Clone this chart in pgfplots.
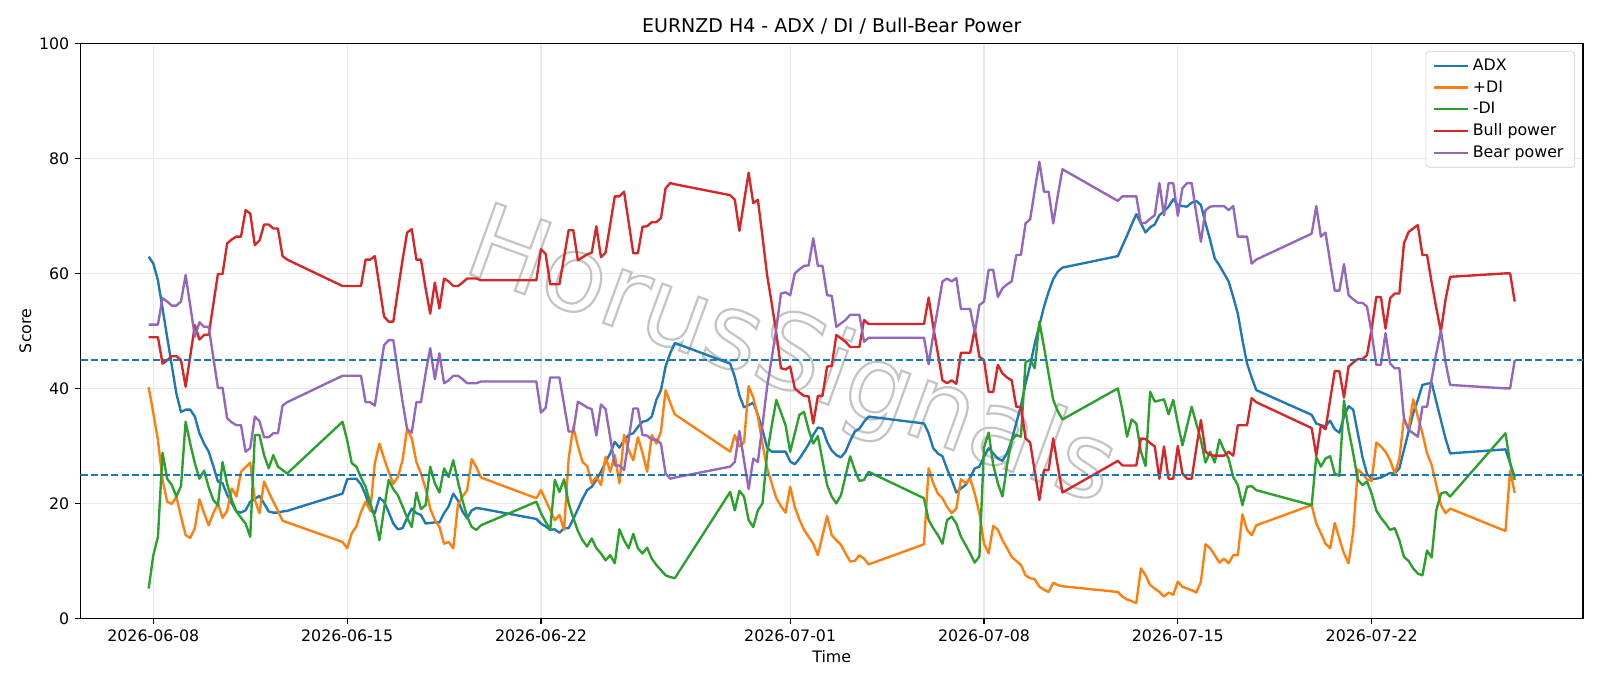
\documentclass[border=0pt]{standalone}
\usepackage{fontspec}
\setmainfont{DejaVu Sans}
\usepackage{pgfplots}
\pgfplotsset{compat=1.18}
\definecolor{cA}{HTML}{1F77B4}
\definecolor{cB}{HTML}{FF7F0E}
\definecolor{cC}{HTML}{2CA02C}
\definecolor{cD}{HTML}{D62728}
\definecolor{cE}{HTML}{9467BD}
\definecolor{gridc}{HTML}{E8E8E8}
\definecolor{legc}{HTML}{CCCCCC}
\definecolor{wmc}{HTML}{C4C4C4}
\begin{document}
\begin{tikzpicture}
\useasboundingbox (-50.65bp,-42.65bp) rectangle (957.3bp,389.6bp);
\begin{axis}[
  at={(0,0)}, anchor=south west,
  scale only axis, width=946.6bp, height=362.3bp,
  xmin=-15.8, xmax=309.8, ymin=0, ymax=100,
  xtick={0,42,84,138,180,222,264},
  xticklabels={2026-06-08,2026-06-15,2026-06-22,2026-07-01,2026-07-08,2026-07-15,2026-07-22},
  ytick={0,20,40,60,80,100},
  tick pos=left,
  tick align=outside,
  major tick length=3.5bp,
  every tick/.style={black, line width=0.8bp},
  axis line style={line width=0.8bp},
  grid=major,
  major grid style={line width=0.8bp, color=gridc},
  tick label style={font=\fontsize{10}{12}\selectfont},
  /pgf/number format/assume math mode=true,
  title={EURNZD H4 - ADX / DI / Bull-Bear Power},
  title style={font=\fontsize{12}{14.4}\selectfont, yshift=-4bp},
  xlabel={Time}, ylabel={Score},
  label style={font=\fontsize{10}{12}\selectfont},
  xlabel style={yshift=1.3bp},
  ylabel style={yshift=-2bp},
  legend style={at={(1,1)}, anchor=north east, xshift=-5bp, yshift=-5bp,
    draw=legc, rounded corners=2bp, fill=white, fill opacity=0.8, text opacity=1,
    font=\fontsize{10}{12}\selectfont, row sep=2.2bp, inner xsep=4.5bp, inner ysep=3.5bp,
    nodes={inner ysep=1.3bp, inner xsep=2.6bp}},
  legend cell align=left,
  legend image code/.code={\draw[#1] (0bp,0bp) -- (21bp,0bp);},
  every axis plot/.append style={line width=1.5bp, line join=round},
]
\node[rotate=-20, font=\fontsize{66}{66}\selectfont, text=wmc, inner sep=0pt] at (axis cs:138,44.9)
  {\special{pdf:literal direct 1 Tr 1.4 w}HorusSignals\special{pdf:literal direct 0 Tr}};
\addplot[cA] coordinates {
(-1,62.9)(0,61.7)(1,58.8)(2,53.9)(3,48.9)(4,44.0)(5,39.1)(6,35.9)(7,36.3)(8,36.3)(9,35.1)(10,32.2)(11,30.4)(12,29.0)(13,26.5)(14,23.8)(15,23.5)(16,21.5)(17,20.0)(18,18.6)(19,18.4)(20,18.8)(21,20.3)(22,20.8)(23,21.3)(24,20.0)(25,18.6)(26,18.4)(27,18.4)(28,18.6)(29,18.7)
(41,21.7)(42,24.2)(43,24.3)(44,24.3)(45,23.3)(46,21.5)(47,18.8)(48,18.3)(49,21.0)(50,20.3)(51,18.5)(52,16.5)(53,15.5)(54,15.7)(55,17.5)(56,19.1)(57,18.3)(58,18.0)(59,16.5)(60,16.6)(61,16.7)(62,16.7)(63,18.3)(64,19.5)(65,21.7)(66,20.5)(67,18.6)(68,17.4)(69,18.8)(70,19.2)(71,19.1)
(83,17.3)(84,16.5)(85,16.0)(86,15.4)(87,15.5)(88,14.9)(89,15.7)(90,15.7)(91,17.3)(92,19.0)(93,20.8)(94,22.3)(95,22.9)(96,24.1)(97,25.5)(98,27.2)(99,28.7)(100,30.7)(101,29.7)(102,31.0)(103,31.9)(104,32.2)(105,33.3)(106,34.2)(107,34.4)(108,35.1)(109,38.0)(110,39.7)(111,43.8)(112,46.1)(113,47.9)
(125,44.3)(126,42.0)(127,38.8)(128,36.7)(129,37.1)(130,37.5)(131,35.4)(132,32.8)(133,29.7)(134,29.0)(135,29.0)(136,29.0)(137,29.0)(138,27.3)(139,26.8)(140,27.8)(141,29.0)(142,30.3)(143,31.9)(144,33.2)(145,33.0)(146,30.7)(147,29.2)(148,28.4)(149,28.0)(150,29.0)(151,30.9)(152,32.5)(153,33.0)(154,34.2)(155,35.1)
(167,33.9)(168,32.2)(169,29.6)(170,28.7)(171,28.2)(172,26.0)(173,24.1)(174,21.9)(175,22.6)(176,23.2)(177,24.5)(178,26.1)(179,26.4)(180,28.1)(181,29.6)(182,28.7)(183,27.8)(184,27.4)(185,28.7)(186,31.0)(187,34.0)(188,37.0)(189,40.8)(190,44.0)(191,47.8)(192,51.0)(193,54.2)(194,56.8)(195,59.0)(196,60.3)(197,61.0)
(209,63.0)(210,64.8)(211,66.6)(212,68.5)(213,70.3)(214,68.7)(215,67.1)(216,68.0)(217,68.5)(218,70.1)(219,70.8)(220,71.6)(221,72.9)(222,71.9)(223,71.7)(224,71.6)(225,72.3)(226,72.6)(227,71.9)(228,68.7)(229,65.8)(230,62.6)(231,61.4)(232,60.0)(233,58.6)(234,55.9)(235,53.0)(236,48.4)(237,44.3)(238,41.9)(239,39.7)
(251,35.4)(252,33.9)(253,33.6)(254,33.4)(255,34.4)(256,32.9)(257,32.3)(258,35.1)(259,36.9)(260,36.3)(261,32.2)(262,28.1)(263,25.1)(264,24.3)(265,24.3)(266,24.5)(267,24.9)(268,25.3)(269,25.2)(270,26.1)(271,29.3)(272,32.5)(273,35.7)(274,38.0)(275,40.6)(276,40.8)(277,41.0)(278,37.7)(279,34.5)(280,31.3)(281,28.7)
(293,29.4)(294,27.0)(295,24.6)
};
\addlegendentry{ADX}
\addplot[cB] coordinates {
(-1,40.2)(0,35.7)(1,31.0)(2,24.1)(3,20.3)(4,19.9)(5,21.2)(6,17.7)(7,14.5)(8,14.0)(9,15.7)(10,20.7)(11,18.3)(12,16.2)(13,18.3)(14,20.0)(15,17.5)(16,18.7)(17,22.6)(18,21.2)(19,25.5)(20,26.3)(21,27.1)(22,20.6)(23,18.3)(24,23.8)(25,22.0)(26,20.3)(27,18.7)(28,17.0)(29,16.7)
(41,13.3)(42,12.2)(43,14.8)(44,16.0)(45,18.5)(46,20.3)(47,18.8)(48,27.0)(49,30.4)(50,27.8)(51,25.5)(52,23.4)(53,24.6)(54,27.5)(55,33.0)(56,31.3)(57,27.2)(58,25.2)(59,22.6)(60,19.1)(61,17.1)(62,15.9)(63,13.0)(64,13.3)(65,12.2)(66,19.7)(67,21.2)(68,22.3)(69,27.7)(70,26.3)(71,24.5)
(83,20.9)(84,22.3)(85,20.6)(86,18.8)(87,17.1)(88,18.0)(89,15.4)(90,27.8)(91,33.3)(92,30.0)(93,27.2)(94,26.5)(95,23.5)(96,24.6)(97,23.2)(98,28.1)(99,25.5)(100,28.4)(101,23.5)(102,31.9)(103,29.3)(104,27.5)(105,31.5)(106,28.8)(107,25.5)(108,31.9)(109,30.4)(110,32.5)(111,39.7)(112,37.5)(113,35.5)
(125,29.0)(126,31.9)(127,29.9)(128,30.6)(129,40.4)(130,38.4)(131,35.1)(132,30.4)(133,26.1)(134,23.5)(135,20.9)(136,19.5)(137,18.4)(138,22.9)(139,19.4)(140,17.2)(141,15.4)(142,14.2)(143,13.0)(144,11.0)(145,14.4)(146,17.8)(147,14.5)(148,13.6)(149,12.8)(150,11.3)(151,9.9)(152,10.0)(153,11.0)(154,10.4)(155,9.4)
(167,12.9)(168,26.1)(169,23.5)(170,21.7)(171,20.9)(172,19.4)(173,18.3)(174,19.1)(175,24.2)(176,23.5)(177,24.3)(178,21.7)(179,18.3)(180,13.0)(181,11.3)(182,16.1)(183,15.4)(184,13.6)(185,12.2)(186,10.7)(187,10.0)(188,9.3)(189,7.5)(190,7.0)(191,6.8)(192,5.5)(193,5.0)(194,4.6)(195,6.2)(196,5.8)(197,5.6)
(209,4.6)(210,3.8)(211,3.3)(212,3.0)(213,2.7)(214,8.7)(215,7.5)(216,5.8)(217,5.2)(218,4.6)(219,3.8)(220,4.5)(221,4.1)(222,6.4)(223,5.5)(224,5.2)(225,4.9)(226,4.5)(227,6.4)(228,12.9)(229,12.2)(230,11.0)(231,9.7)(232,10.4)(233,9.6)(234,11.0)(235,11.0)(236,18.1)(237,15.4)(238,14.5)(239,16.2)
(251,19.7)(252,16.5)(253,14.8)(254,13.0)(255,12.2)(256,16.6)(257,13.9)(258,11.3)(259,9.6)(260,15.1)(261,25.9)(262,25.2)(263,24.2)(264,23.9)(265,30.6)(266,29.9)(267,29.0)(268,27.5)(269,25.2)(270,27.8)(271,34.8)(272,32.9)(273,38.1)(274,35.1)(275,32.2)(276,28.7)(277,26.7)(278,23.2)(279,19.7)(280,18.3)(281,19.1)
(293,15.2)(294,25.7)(295,21.8)
};
\addlegendentry{+DI}
\addplot[cC] coordinates {
(-1,5.2)(0,11.0)(1,14.2)(2,28.8)(3,24.3)(4,23.2)(5,21.2)(6,23.0)(7,34.2)(8,30.4)(9,27.0)(10,24.3)(11,25.7)(12,22.8)(13,20.6)(14,19.7)(15,27.2)(16,23.4)(17,20.6)(18,18.6)(19,17.5)(20,16.5)(21,14.2)(22,31.9)(23,31.9)(24,28.4)(25,26.1)(26,28.4)(27,26.4)(28,25.8)(29,25.2)
(41,34.2)(42,31.0)(43,27.0)(44,26.4)(45,24.5)(46,22.9)(47,20.1)(48,17.5)(49,13.6)(50,19.0)(51,24.1)(52,22.5)(53,21.4)(54,19.5)(55,17.5)(56,15.9)(57,21.9)(58,19.0)(59,19.7)(60,26.4)(61,23.5)(62,21.9)(63,26.1)(64,24.6)(65,27.5)(66,23.8)(67,20.5)(68,17.7)(69,15.9)(70,15.4)(71,16.2)
(83,20.3)(84,18.3)(85,16.8)(86,15.4)(87,24.1)(88,22.0)(89,24.2)(90,20.0)(91,17.5)(92,15.2)(93,13.6)(94,12.5)(95,13.9)(96,12.2)(97,11.3)(98,10.1)(99,11.0)(100,9.6)(101,15.5)(102,13.6)(103,12.2)(104,14.7)(105,12.2)(106,11.3)(107,12.3)(108,10.4)(109,9.3)(110,8.4)(111,7.5)(112,7.2)(113,7.0)
(125,22.0)(126,18.8)(127,22.2)(128,21.2)(129,17.1)(130,15.9)(131,18.8)(132,20.0)(133,28.7)(134,33.5)(135,38.0)(136,35.8)(137,33.6)(138,29.0)(139,32.2)(140,35.4)(141,35.9)(142,32.8)(143,30.4)(144,31.7)(145,27.5)(146,23.2)(147,21.2)(148,20.0)(149,21.4)(150,24.8)(151,28.2)(152,25.8)(153,23.9)(154,24.1)(155,25.5)
(167,20.9)(168,17.1)(169,15.7)(170,14.5)(171,13.0)(172,17.1)(173,17.7)(174,16.5)(175,14.2)(176,12.8)(177,11.3)(178,9.7)(179,10.8)(180,29.7)(181,32.3)(182,26.7)(183,23.5)(184,21.2)(185,26.7)(186,31.0)(187,31.9)(188,31.6)(189,44.5)(190,45.0)(191,43.5)(192,51.6)(193,47.2)(194,42.5)(195,38.0)(196,36.0)(197,34.6)
(209,40.0)(210,36.2)(211,31.6)(212,34.6)(213,33.9)(214,29.0)(215,26.5)(216,39.4)(217,37.7)(218,37.9)(219,38.1)(220,35.5)(221,38.0)(222,33.9)(223,30.1)(224,33.5)(225,36.8)(226,33.9)(227,31.0)(228,27.1)(229,29.0)(230,27.1)(231,31.1)(232,29.3)(233,27.8)(234,24.6)(235,23.2)(236,19.7)(237,22.9)(238,23.0)(239,22.3)
(251,19.7)(252,28.1)(253,26.4)(254,27.8)(255,28.2)(256,25.2)(257,24.8)(258,37.9)(259,32.8)(260,28.7)(261,24.1)(262,23.2)(263,23.8)(264,21.7)(265,18.8)(266,17.5)(267,16.5)(268,15.4)(269,15.7)(270,13.6)(271,10.7)(272,10.0)(273,8.7)(274,7.8)(275,7.5)(276,11.8)(277,10.6)(278,18.8)(279,21.7)(280,22.0)(281,21.2)
(293,32.2)(294,27.0)(295,24.1)
};
\addlegendentry{-DI}
\addplot[cD] coordinates {
(-1,48.9)(0,48.9)(1,48.9)(2,44.3)(3,44.9)(4,45.6)(5,45.6)(6,44.9)(7,40.3)(8,45.6)(9,51.0)(10,48.5)(11,49.3)(12,49.3)(13,54.6)(14,59.9)(15,59.9)(16,65.2)(17,65.9)(18,66.4)(19,66.4)(20,71.0)(21,70.4)(22,64.9)(23,65.7)(24,68.5)(25,68.5)(26,67.8)(27,67.8)(28,63.0)(29,62.4)
(41,57.8)(42,57.8)(43,57.8)(44,57.8)(45,57.8)(46,62.4)(47,62.4)(48,63.0)(49,57.7)(50,52.5)(51,51.6)(52,51.6)(53,57.0)(54,62.3)(55,67.1)(56,67.7)(57,62.4)(58,62.4)(59,57.4)(60,53.0)(61,58.4)(62,53.9)(63,59.1)(64,58.6)(65,57.8)(66,57.8)(67,58.4)(68,59.1)(69,59.1)(70,59.1)(71,58.8)
(83,58.8)(84,64.2)(85,63.4)(86,58.1)(87,58.1)(88,58.1)(89,62.8)(90,67.5)(91,67.5)(92,62.3)(93,62.8)(94,63.3)(95,63.6)(96,68.2)(97,62.8)(98,63.6)(99,68.5)(100,73.4)(101,73.4)(102,74.2)(103,68.9)(104,63.5)(105,63.5)(106,68.1)(107,68.2)(108,68.9)(109,68.9)(110,69.6)(111,74.8)(112,75.7)(113,75.5)
(125,73.6)(126,72.8)(127,67.4)(128,72.5)(129,77.5)(130,72.2)(131,72.8)(132,66.4)(133,59.7)(134,54.8)(135,49.6)(136,43.5)(137,43.3)(138,43.8)(139,40.0)(140,39.3)(141,38.7)(142,38.6)(143,33.9)(144,38.7)(145,38.7)(146,43.8)(147,43.9)(148,49.3)(149,48.7)(150,48.1)(151,47.2)(152,47.2)(153,47.2)(154,51.9)(155,51.2)
(167,51.2)(168,55.8)(169,50.7)(170,46.1)(171,41.4)(172,40.9)(173,41.4)(174,40.8)(175,46.2)(176,46.2)(177,46.2)(178,50.3)(179,45.5)(180,44.9)(181,39.4)(182,39.4)(183,44.1)(184,42.6)(185,41.9)(186,41.4)(187,36.8)(188,36.8)(189,31.3)(190,30.6)(191,25.5)(192,20.6)(193,25.8)(194,25.8)(195,31.3)(196,26.4)(197,21.9)
(209,27.4)(210,26.6)(211,26.6)(212,26.6)(213,26.6)(214,31.3)(215,31.2)(216,30.5)(217,29.9)(218,24.3)(219,29.9)(220,24.3)(221,24.3)(222,30.0)(223,25.2)(224,24.3)(225,24.3)(226,29.6)(227,34.5)(228,29.0)(229,28.4)(230,28.3)(231,28.3)(232,28.3)(233,29.0)(234,28.3)(235,33.6)(236,33.6)(237,33.6)(238,38.3)(239,37.6)
(251,33.1)(252,28.3)(253,33.6)(254,32.9)(255,38.0)(256,43.0)(257,43.0)(258,38.4)(259,43.8)(260,44.5)(261,45.1)(262,45.1)(263,45.8)(264,50.4)(265,55.9)(266,55.9)(267,50.4)(268,55.7)(269,56.5)(270,56.5)(271,65.2)(272,67.2)(273,67.8)(274,68.4)(275,63.2)(276,63.2)(277,58.4)(278,54.0)(279,49.9)(280,55.4)(281,59.4)
(293,60.0)(294,60.0)(295,55.1)
};
\addlegendentry{Bull power}
\addplot[cE] coordinates {
(-1,51.1)(0,51.1)(1,51.1)(2,55.7)(3,55.1)(4,54.4)(5,54.4)(6,55.1)(7,59.7)(8,54.4)(9,49.0)(10,51.5)(11,50.7)(12,50.7)(13,45.4)(14,40.1)(15,40.1)(16,34.8)(17,34.1)(18,33.6)(19,33.6)(20,29.0)(21,29.6)(22,35.1)(23,34.3)(24,31.5)(25,31.5)(26,32.2)(27,32.2)(28,37.0)(29,37.6)
(41,42.2)(42,42.2)(43,42.2)(44,42.2)(45,42.2)(46,37.6)(47,37.6)(48,37.0)(49,42.3)(50,47.5)(51,48.4)(52,48.4)(53,43.0)(54,37.7)(55,32.9)(56,32.3)(57,37.6)(58,37.6)(59,42.6)(60,47.0)(61,41.6)(62,46.1)(63,40.9)(64,41.4)(65,42.2)(66,42.2)(67,41.6)(68,40.9)(69,40.9)(70,40.9)(71,41.2)
(83,41.2)(84,35.8)(85,36.6)(86,41.9)(87,41.9)(88,41.9)(89,37.2)(90,32.5)(91,32.5)(92,37.7)(93,37.2)(94,36.7)(95,36.4)(96,31.8)(97,37.2)(98,36.4)(99,31.5)(100,26.6)(101,26.6)(102,25.8)(103,31.1)(104,36.5)(105,36.5)(106,31.9)(107,31.8)(108,31.1)(109,31.1)(110,30.4)(111,25.2)(112,24.3)(113,24.5)
(125,26.4)(126,27.2)(127,32.6)(128,27.5)(129,22.5)(130,27.8)(131,27.2)(132,33.6)(133,40.3)(134,45.2)(135,50.4)(136,56.5)(137,56.7)(138,56.2)(139,60.0)(140,60.7)(141,61.3)(142,61.4)(143,66.1)(144,61.3)(145,61.3)(146,56.2)(147,56.1)(148,50.7)(149,51.3)(150,51.9)(151,52.8)(152,52.8)(153,52.8)(154,48.1)(155,48.8)
(167,48.8)(168,44.2)(169,49.3)(170,53.9)(171,58.6)(172,59.1)(173,58.6)(174,59.2)(175,53.8)(176,53.8)(177,53.8)(178,49.7)(179,54.5)(180,55.1)(181,60.6)(182,60.6)(183,55.9)(184,57.4)(185,58.1)(186,58.6)(187,63.2)(188,63.2)(189,68.7)(190,69.4)(191,74.5)(192,79.4)(193,74.2)(194,74.2)(195,68.7)(196,73.6)(197,78.1)
(209,72.6)(210,73.4)(211,73.4)(212,73.4)(213,73.4)(214,68.7)(215,68.8)(216,69.5)(217,70.1)(218,75.7)(219,70.1)(220,75.7)(221,75.7)(222,70.0)(223,74.8)(224,75.7)(225,75.7)(226,70.4)(227,65.5)(228,71.0)(229,71.6)(230,71.7)(231,71.7)(232,71.7)(233,71.0)(234,71.7)(235,66.4)(236,66.4)(237,66.4)(238,61.7)(239,62.4)
(251,66.9)(252,71.7)(253,66.4)(254,67.1)(255,62.0)(256,57.0)(257,57.0)(258,61.6)(259,56.2)(260,55.5)(261,54.9)(262,54.9)(263,54.2)(264,49.6)(265,44.1)(266,44.1)(267,49.6)(268,44.3)(269,43.5)(270,43.5)(271,34.8)(272,32.8)(273,32.2)(274,31.6)(275,36.8)(276,36.8)(277,41.6)(278,46.0)(279,50.1)(280,44.6)(281,40.6)
(293,40.0)(294,40.0)(295,44.9)
};
\addlegendentry{Bear power}
\addplot[forget plot, cA, line width=1.1bp, dash pattern=on 4.5bp off 2bp] coordinates {(-15.8,45) (309.8,45)};
\addplot[forget plot, cA, line width=1.1bp, dash pattern=on 4.5bp off 2bp] coordinates {(-15.8,25) (309.8,25)};
\end{axis}
\end{tikzpicture}
\end{document}
